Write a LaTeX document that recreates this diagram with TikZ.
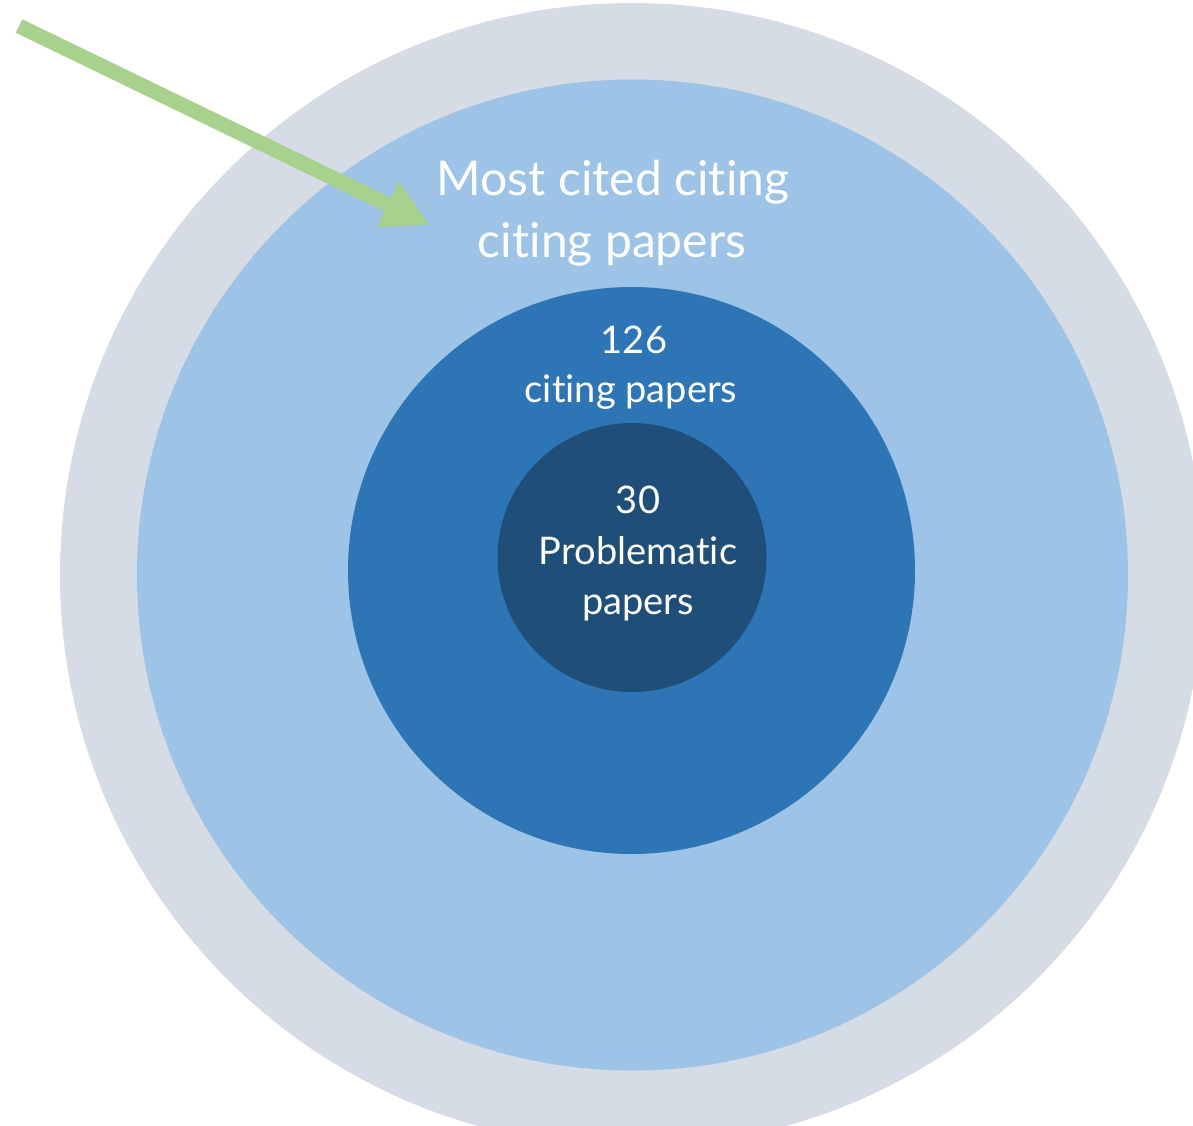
\documentclass[tikz,border=0pt]{standalone}
\usepackage{fontspec}
\setmainfont{Lato}[Ligatures={NoCommon,NoContextual}]
\usetikzlibrary{arrows.meta}
\definecolor{ringgrey}{HTML}{D6DCE5}
\definecolor{ringlight}{HTML}{9DC3E6}
\definecolor{ringmid}{HTML}{2E75B6}
\definecolor{ringdark}{HTML}{1F4E79}
\definecolor{arrowgreen}{HTML}{A9D18E}
\tikzset{
  ring/.style={circle, inner sep=0pt, outer sep=0pt, draw=none},
  bigtext/.style={text=white, inner sep=0pt, anchor=base, font=\fontsize{48}{58}\selectfont},
  smalltext/.style={text=white, inner sep=0pt, anchor=base, font=\fontsize{38}{46}\selectfont},
  pointer/.style={draw=arrowgreen, line width=15pt, -{Triangle[length=47pt,width=47pt]}}
}
\begin{document}
\begin{tikzpicture}[x=1pt,y=-1pt]
  \useasboundingbox (0,0) rectangle (1193,1126);
  \clip (0,0) rectangle (1193,1126);
  % concentric rings
  \node[ring, fill=ringgrey,  minimum size=1144pt] (outer) at (632,575) {};
  \node[ring, fill=ringlight, minimum size=991pt]  (light) at (632.5,575) {};
  \node[ring, fill=ringmid,   minimum size=567pt]  (mid)   at (631.5,570.5) {};
  \node[ring, fill=ringdark,  minimum size=269pt]  (core)  at (632,557.5) {};
  % labels
  \node[bigtext] (l1a) at (613,195) {Most cited citing};
  \node[bigtext] (l1b) at (612,257) {citing papers};
  \node[smalltext] (l2a) at (634,353) {126};
  \node[smalltext] (l2b) at (631,402) {citing papers};
  \node[smalltext] (l3a) at (638,513) {30};
  \node[smalltext] (l3b) at (638,564) {Problematic};
  \node[smalltext] (l3c) at (638,614) {papers};
  % pointer arrow
  \coordinate (tail) at (19,26);
  \coordinate (tip) at (430,225);
  \draw[pointer] (tail) -- (tip);
\end{tikzpicture}
\end{document}
